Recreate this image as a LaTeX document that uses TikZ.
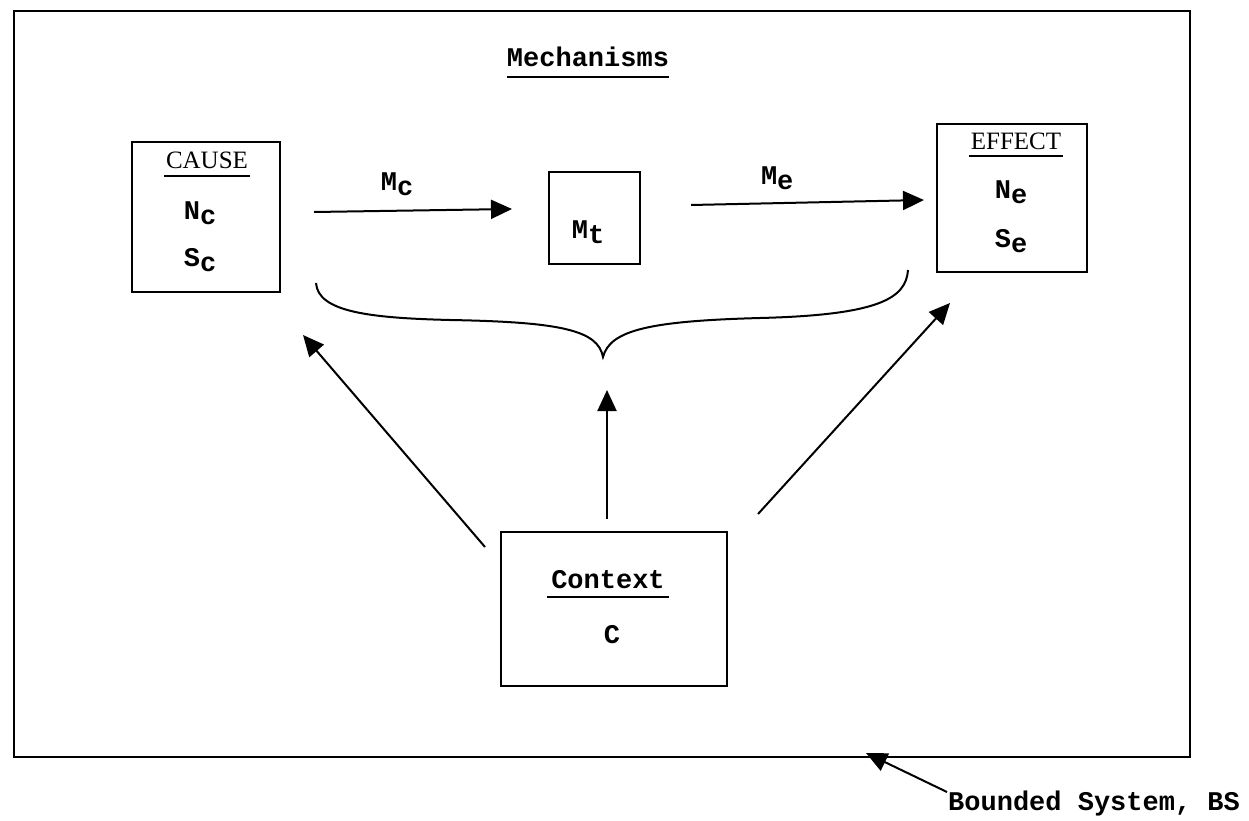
\documentclass[tikz,border=0pt]{standalone}
\usepackage{fontspec}
\setmainfont{Liberation Serif}
\setmonofont{Liberation Mono}
\usetikzlibrary{arrows.meta}
\begin{document}
\begin{tikzpicture}[x=1pt,y=-1pt,
  box/.style={draw, line width=2pt, rectangle, inner sep=0pt},
  mono/.style={font=\fontsize{27}{30}\selectfont\ttfamily\bfseries, inner sep=0pt},
  serif/.style={font=\fontsize{25}{28}\selectfont\rmfamily, inner sep=0pt},
  uline/.style={line width=2pt},
  arr/.style={line width=2pt, -{Triangle[length=21pt,width=19pt]}}]
\useasboundingbox (0,0) rectangle (1249,821);
\newcommand{\sub}[1]{\raisebox{-0.35ex}{#1}}

% bounded system frame
\node[box, minimum width=1176, minimum height=746] (frame) at (602,384) {};

% title
\node[mono] (mech) at (588,57) {Mechanisms};
\draw[uline] ([shift={(0,10)}]mech.south west) -- ([shift={(0,10)}]mech.south east);

% cause box
\node[box, minimum width=148, minimum height=150] (cause) at (206,217) {};
\node[serif] (causet) at (207,160) {CAUSE};
\draw[uline] ([shift={(-2,7)}]causet.south west) -- ([shift={(2,7)}]causet.south east);
\node[mono] (nc) at (200,213) {N\sub{c}};
\node[mono] (sc) at (200,260) {S\sub{c}};

% transmission box
\node[box, minimum width=91, minimum height=92] (mt) at (594.5,218) {};
\node[mono] (mtt) at (588,232) {M\sub{t}};

% effect box
\node[box, minimum width=150, minimum height=148] (effect) at (1012,198) {};
\node[serif] (effectt) at (1016,141) {EFFECT};
\draw[uline] ([shift={(-2,6)}]effectt.south west) -- ([shift={(2,6)}]effectt.south east);
\node[mono] (ne) at (1011,192) {N\sub{e}};
\node[mono] (se) at (1011,241) {S\sub{e}};

% mechanism arrows
\draw[arr] ([shift={(33,-5)}]cause.east) -- ([shift={(-36,-9)}]mt.west)
  node[mono, pos=0.42, above=14pt] (mc) {M\sub{c}};
\draw[arr] ([shift={(50,-13)}]mt.east) -- ([shift={(-12,2)}]effect.west)
  node[mono, pos=0.37, above=12pt] (me) {M\sub{e}};

% brace grouping the mechanisms
\coordinate (btip) at (603,357);
\draw[line width=2pt] (316,283) .. controls (318,312) and (370,318) .. (450,320)
  .. controls (560,322) and (598,330) .. (btip)
  .. controls (610,330) and (650,321) .. (760,318)
  .. controls (880,315) and (906,298) .. (908,270);

% context box
\node[box, minimum width=226, minimum height=154] (context) at (614,609) {};
\node[mono] (contextt) at (608,580) {Context};
\draw[uline] ([shift={(-4,8)}]contextt.south west) -- ([shift={(4,8)}]contextt.south east);
\node[mono] (cc) at (612,635) {C};

% context influences
\coordinate (toc) at (303,335);
\coordinate (toe) at (950,303);
\draw[arr] ([shift={(-7,-12)}]context.north) -- ([shift={(4,33)}]btip);
\draw[arr] ([shift={(-15,16)}]context.north west) -- (toc);
\draw[arr] ([shift={(30,-17)}]context.north east) -- (toe);

% bounded system label
\node[mono, anchor=west] (bs) at (948,804) {Bounded System, BS};
\coordinate (bsp) at (866,753);
\draw[arr] ([shift={(-1,-12)}]bs.west) -- (bsp);
\end{tikzpicture}
\end{document}
